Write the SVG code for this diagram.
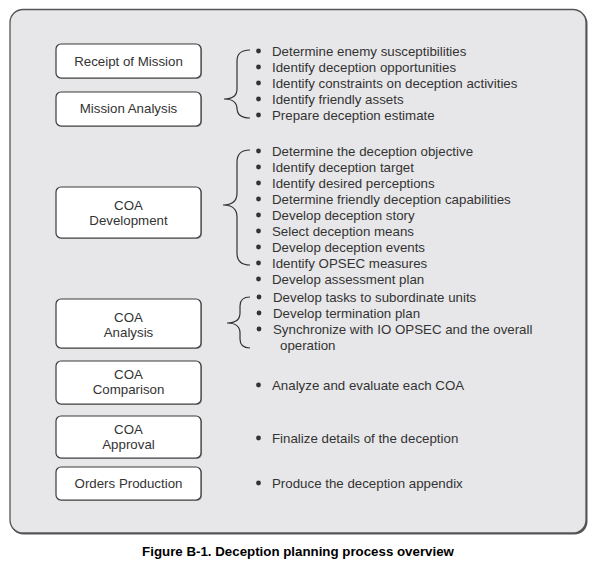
<svg xmlns="http://www.w3.org/2000/svg" width="594" height="568" viewBox="0 0 594 568">
<style>
.box{fill:#ffffff;stroke:#3a3a3a;stroke-width:1.2}
.bs{fill:#9a9a9a}
.bt{font-family:"Liberation Sans",Arial,sans-serif;font-size:13.3px;fill:#333;text-anchor:middle}
.li{font-family:"Liberation Sans",Arial,sans-serif;font-size:13.3px;fill:#333}
.dot{fill:#333}
.brace{fill:none;stroke:#333;stroke-width:1.2}
.cap{font-family:"Liberation Sans",Arial,sans-serif;font-size:13.3px;font-weight:bold;fill:#000;text-anchor:middle}
</style>
<rect x="0" y="0" width="594" height="568" fill="#fff"/>
<g id="panel">
<rect x="10.5" y="10.5" width="577" height="524" rx="13" fill="#555"/>
<rect x="10" y="9.5" width="576" height="523.5" rx="13" fill="#e7e7e9" stroke="#555" stroke-width="1.3"/>
</g>
<g id="connectors">
<path class="brace" d="M250,50 Q237,50 237,61 L237,89 Q237,99 224,99 Q237,99 237,109 L237,108 Q237,118 250,118"/>
<path class="brace" d="M250,150 Q237,150 237,162 L237,193 Q237,205 223,205 Q237,205 237,217 L237,253 Q237,265 250,265"/>
<path class="brace" d="M250,297 Q240,297 240,306 L240,313 Q240,323 227,323 Q240,323 240,333 L240,339 Q240,348 250,348"/>
</g>
<g id="receipt">
<rect class="bs" x="57" y="45" width="145" height="34" rx="5"/>
<rect class="box" x="56" y="44" width="145" height="34" rx="5"/>
<text class="bt" x="128.5" y="65.5">Receipt of Mission</text>
</g>
<g id="analysis">
<rect class="bs" x="57" y="93" width="145" height="34" rx="5"/>
<rect class="box" x="56" y="92" width="145" height="34" rx="5"/>
<text class="bt" x="128.5" y="113">Mission Analysis</text>
</g>
<g id="coadev">
<rect class="bs" x="57" y="188" width="145" height="51" rx="5"/>
<rect class="box" x="56" y="187" width="145" height="51" rx="5"/>
<text class="bt" x="128.5" y="209.5">COA</text>
<text class="bt" x="128.5" y="224.5">Development</text>
</g>
<g id="coaanalysis">
<rect class="bs" x="57" y="300" width="145" height="49" rx="5"/>
<rect class="box" x="56" y="299" width="145" height="49" rx="5"/>
<text class="bt" x="128.5" y="322">COA</text>
<text class="bt" x="128.5" y="337">Analysis</text>
</g>
<g id="coacomparison">
<rect class="bs" x="57" y="362" width="145" height="43" rx="5"/>
<rect class="box" x="56" y="361" width="145" height="43" rx="5"/>
<text class="bt" x="128.5" y="379">COA</text>
<text class="bt" x="128.5" y="394">Comparison</text>
</g>
<g id="coaapproval">
<rect class="bs" x="57" y="417" width="145" height="42" rx="5"/>
<rect class="box" x="56" y="416" width="145" height="42" rx="5"/>
<text class="bt" x="128.5" y="434">COA</text>
<text class="bt" x="128.5" y="449">Approval</text>
</g>
<g id="orders">
<rect class="bs" x="57" y="468" width="145" height="33" rx="5"/>
<rect class="box" x="56" y="467" width="145" height="33" rx="5"/>
<text class="bt" x="128.5" y="488">Orders Production</text>
</g>
<g id="list1">
<circle class="dot" cx="258.5" cy="51" r="2.4"/><text class="li" x="272" y="55.5">Determine enemy susceptibilities</text>
<circle class="dot" cx="258.5" cy="67" r="2.4"/><text class="li" x="272" y="71.5">Identify deception opportunities</text>
<circle class="dot" cx="258.5" cy="83" r="2.4"/><text class="li" x="272" y="87.5">Identify constraints on deception activities</text>
<circle class="dot" cx="258.5" cy="99" r="2.4"/><text class="li" x="272" y="103.5">Identify friendly assets</text>
<circle class="dot" cx="258.5" cy="115" r="2.4"/><text class="li" x="272" y="119.5">Prepare deception estimate</text>
</g>
<g id="list2">
<circle class="dot" cx="258.5" cy="151" r="2.4"/><text class="li" x="272" y="155.5">Determine the deception objective</text>
<circle class="dot" cx="258.5" cy="167" r="2.4"/><text class="li" x="272" y="171.5">Identify deception target</text>
<circle class="dot" cx="258.5" cy="183" r="2.4"/><text class="li" x="272" y="187.5">Identify desired perceptions</text>
<circle class="dot" cx="258.5" cy="199" r="2.4"/><text class="li" x="272" y="203.5">Determine friendly deception capabilities</text>
<circle class="dot" cx="258.5" cy="215" r="2.4"/><text class="li" x="272" y="219.5">Develop deception story</text>
<circle class="dot" cx="258.5" cy="231" r="2.4"/><text class="li" x="272" y="235.5">Select deception means</text>
<circle class="dot" cx="258.5" cy="247" r="2.4"/><text class="li" x="272" y="251.5">Develop deception events</text>
<circle class="dot" cx="258.5" cy="263" r="2.4"/><text class="li" x="272" y="267.5">Identify OPSEC measures</text>
<circle class="dot" cx="258.5" cy="279" r="2.4"/><text class="li" x="272" y="283.5">Develop assessment plan</text>
</g>
<g id="list3">
<circle class="dot" cx="259" cy="297" r="2.4"/><text class="li" x="273" y="301.5">Develop tasks to subordinate units</text>
<circle class="dot" cx="259" cy="313" r="2.4"/><text class="li" x="273" y="317.5">Develop termination plan</text>
<circle class="dot" cx="259" cy="329" r="2.4"/><text class="li" x="273" y="333.5">Synchronize with IO OPSEC and the overall</text>
<text class="li" x="280" y="349.5">operation</text>
</g>
<g id="list4">
<circle class="dot" cx="258.5" cy="385" r="2.4"/><text class="li" x="272" y="389.5">Analyze and evaluate each COA</text>
<circle class="dot" cx="258.5" cy="438" r="2.4"/><text class="li" x="272" y="442.5">Finalize details of the deception</text>
<circle class="dot" cx="258.5" cy="483" r="2.4"/><text class="li" x="272" y="487.5">Produce the deception appendix</text>
</g>
<text class="cap" x="298" y="556">Figure B-1. Deception planning process overview</text>
</svg>
